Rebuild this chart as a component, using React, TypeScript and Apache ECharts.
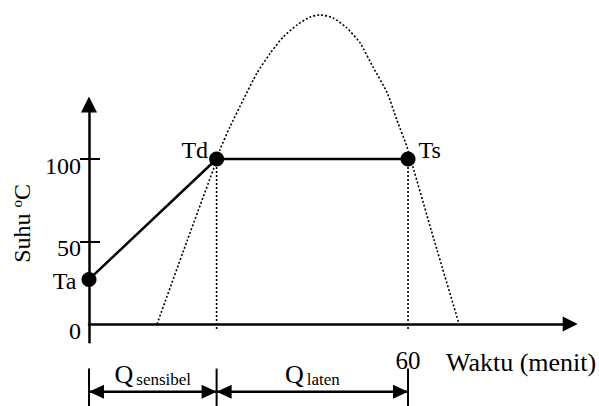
import React, { useEffect, useRef } from 'react';
import * as echarts from 'echarts';

// ---- data ----
const tempTicks = [0, 50, 100];
const tempMarkTicks = [50, 100];
const timeTicks = [60];
const pointNames = ['Ta', 'Td', 'Ts'];
const pointTime = [0, 24, 60];
const pointTemp = [27, 100, 100];
const curveTime = [12.8, 18.4, 24.1, 24.6, 26.5, 29.0, 31.6, 34.1, 36.5, 39.1, 41.6, 43.5, 45.9, 48.5, 51.0, 53.4, 56.1, 57.9, 59.8, 64.9, 69.6];
const curveTemp = [0, 50, 100, 105.5, 119.4, 135.8, 152.1, 164.2, 173.9, 181.2, 186.1, 187.3, 185.5, 179.4, 170.3, 155.8, 140.0, 123.6, 107.3, 50.9, 0];
const phaseNames = ['sensibel', 'laten'];
const phaseBounds = [0, 24, 60];
const dropBottom = -4;
const braceTop = -27;
const braceBottom = -52;
const braceLevel = -41;

const FONT = 'Liberation Serif';
const BLACK = '#000';

export default function App() {
  const ref = useRef<HTMLDivElement>(null);

  useEffect(() => {
    if (!ref.current) return;
    const chart = echarts.init(ref.current, null, { renderer: 'svg' });

    const labelLayouts: any[] = [
      { position: 'left', distance: 5, offset: [0, 2] },
      { position: 'left', distance: 1, offset: [0, -9] },
      { position: 'right', distance: 3, offset: [0, -9] },
    ];

    const dotted = { color: BLACK, width: 1.6, type: [2, 2] as any };

    const series: any[] = [];

    // dotted bell curve
    series.push({
      type: 'line',
      data: curveTime.map((t, i) => [t, curveTemp[i]]),
      smooth: 0.2,
      symbol: 'none',
      lineStyle: dotted,
      clip: false,
      silent: true,
      z: 1,
    });

    // dotted drop lines from Td and Ts
    for (let i = 1; i < pointTime.length; i++) {
      series.push({
        type: 'line',
        data: [
          [pointTime[i], pointTemp[i]],
          [pointTime[i], dropBottom],
        ],
        symbol: 'none',
        lineStyle: dotted,
        clip: false,
        silent: true,
        z: 1,
      });
    }

    // main heating line
    series.push({
      type: 'line',
      data: pointNames.map((n, i) => ({
        name: n,
        value: [pointTime[i], pointTemp[i]],
        label: labelLayouts[i],
      })),
      symbol: 'circle',
      symbolSize: 15,
      itemStyle: { color: BLACK },
      lineStyle: { color: BLACK, width: 2.5 },
      label: {
        show: true,
        formatter: '{b}',
        fontFamily: FONT,
        fontSize: 24,
        color: BLACK,
      },
      clip: false,
      silent: true,
      z: 5,
    });

    // boundary ticks below the axis
    phaseBounds.forEach((t) => {
      series.push({
        type: 'line',
        data: [
          [t, braceTop],
          [t, braceBottom],
        ],
        symbol: 'none',
        lineStyle: { color: BLACK, width: 2 },
        clip: false,
        silent: true,
      });
    });

    // double-headed arrows with Q labels
    phaseNames.forEach((name, i) => {
      const a = phaseBounds[i];
      const b = phaseBounds[i + 1];
      series.push({
        type: 'line',
        data: [
          { value: [a, braceLevel], symbol: 'triangle', symbolRotate: 90, symbolOffset: [7.5, 0] },
          {
            value: [(a + b) / 2, braceLevel],
            symbol: 'circle',
            symbolSize: 0,
            label: {
              show: true,
              position: 'top',
              distance: 4,
              formatter: '{q|Q} {s|' + name + '}',
              rich: {
                q: { fontFamily: FONT, fontSize: 26, color: BLACK, verticalAlign: 'bottom' },
                s: { fontFamily: FONT, fontSize: 17, color: BLACK, verticalAlign: 'bottom' },
              },
            },
          },
          { value: [b, braceLevel], symbol: 'triangle', symbolRotate: -90, symbolOffset: [-7.5, 0] },
        ],
        symbolSize: [14, 15],
        itemStyle: { color: BLACK },
        lineStyle: { color: BLACK, width: 2.5 },
        clip: false,
        silent: true,
      });
    });

    const yBase = {
      type: 'value',
      min: -11,
      max: 133,
      splitLine: { show: false },
    };

    chart.setOption({
      animation: false,
      textStyle: { fontFamily: FONT, color: BLACK },
      grid: { left: 89, top: 104.55, width: 481.2, height: 237.6, outerBoundsMode: 'none' },
      xAxis: {
        type: 'value',
        min: 0,
        max: 90.5,
        axisLine: {
          onZero: true,
          lineStyle: { color: BLACK, width: 2.5 },
          symbol: ['none', 'triangle'],
          symbolSize: [15, 15],
        },
        axisTick: { show: false },
        splitLine: { show: false },
        axisLabel: {
          customValues: timeTicks,
          fontFamily: FONT,
          fontSize: 25,
          color: BLACK,
          margin: 6,
        },
        name: 'Waktu (menit)',
        nameLocation: 'end',
        nameGap: 26,
        nameTextStyle: {
          fontFamily: FONT,
          fontSize: 26,
          color: BLACK,
          align: 'right',
          verticalAlign: 'top',
          padding: [25, 0, 0, 0],
        },
      },
      yAxis: [
        {
          ...yBase,
          axisLine: {
            show: true,
            onZero: false,
            lineStyle: { color: BLACK, width: 2.5 },
            symbol: ['none', 'triangle'],
            symbolSize: [16, 16],
          },
          axisTick: {
            show: true,
            customValues: tempMarkTicks,
            length: 9,
            lineStyle: { color: BLACK, width: 2 },
          },
          axisLabel: {
            customValues: tempTicks,
            margin: 8,
            fontFamily: FONT,
            fontSize: 24,
            color: BLACK,
            verticalAlign: 'top',
            lineHeight: 13,
          },
          name: 'Suhu {sup|o}C',
          nameLocation: 'middle',
          nameGap: 52,
          nameTextStyle: {
            fontFamily: FONT,
            fontSize: 24,
            color: BLACK,
            rich: {
              sup: { fontFamily: FONT, fontSize: 15, color: BLACK, padding: [0, 0, 10, 0] },
            },
          },
        },
        {
          ...yBase,
          position: 'left',
          axisLine: { show: false, onZero: false },
          axisTick: {
            show: true,
            inside: true,
            customValues: tempMarkTicks,
            length: 11,
            lineStyle: { color: BLACK, width: 2 },
          },
          axisLabel: { show: false },
        },
      ],
      series,
    });

    return () => chart.dispose();
  }, []);

  return (
    <div
      ref={ref}
      style={{ position: 'absolute', left: 0, top: 0, width: 599, height: 406, background: '#fff' }}
    />
  );
}
